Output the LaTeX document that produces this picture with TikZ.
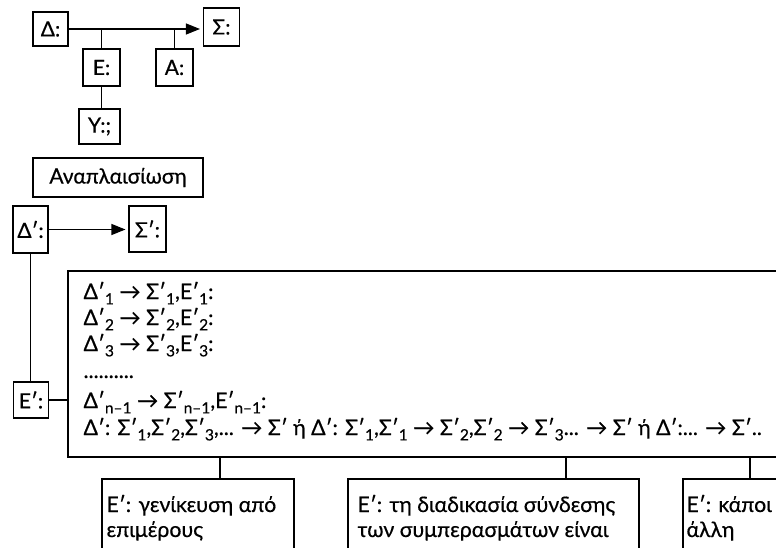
\documentclass[tikz,border=0pt]{standalone}
\usepackage{fontspec}
\setmainfont{Lato}[FakeBold=0.5]
\usetikzlibrary{arrows.meta}

% lowered, smaller index
\newcommand\ix[1]{\raisebox{-0.5ex}{\fontsize{15.5}{15.5}\selectfont #1}}

\begin{document}
\begin{tikzpicture}[x=1pt,y=-1pt,line width=1.1pt,
  box/.style={draw,rectangle,inner sep=0pt,font=\fontsize{21}{24}\selectfont},
  tline/.style={anchor=base west,inner sep=0pt,font=\fontsize{21.3}{24}\selectfont},
  arr/.style={-{Triangle[length=14pt,width=11pt]},shorten >=3pt}]
\useasboundingbox (0,0) rectangle (776,548);
\clip (0,0) rectangle (776,548);

% first scheme
\node[box,minimum width=35pt,minimum height=34pt] (d) at (50.5,29) {Δ:};
\node[box,minimum width=36pt,minimum height=38pt] (s) at (221.5,27) {Σ:};
\node[box,minimum width=37pt,minimum height=37pt] (e) at (101.5,67.5) {Ε:};
\node[box,minimum width=37pt,minimum height=37pt] (a) at (174.5,67.5) {Α:};
\node[box,minimum width=41pt,minimum height=35pt] (y) at (99.5,126.5) {Υ:;};
\draw[arr] (d.east) -- (d.east -| s.west);
\draw (e.north) -- (e.north |- d.east);
\draw (a.north) -- (a.north |- d.east);
\draw (e.south) -- (e.south |- y.north);

\node[box,minimum width=170pt,minimum height=39pt] (re) at (118,177.5) {Αναπλαισίωση};

% second scheme
\node[box,minimum width=35pt,minimum height=47pt] (dp) at (30.5,229.5) {Δ′:};
\node[box,minimum width=37pt,minimum height=46pt] (sp) at (147.5,229) {Σ′:};
\node[box,minimum width=35pt,minimum height=36pt] (ep) at (31,400) {Ε′:};
\draw[arr] (dp.east) -- (dp.east -| sp.west);
\draw (dp.south) -- (dp.south |- ep.north);

\node[draw,rectangle,inner sep=0pt,minimum width=752pt,minimum height=186pt] (fr) at (444,364) {};
\draw (ep.east) -- (ep.east -| fr.west);

\node[tline] (l1) at (83,299) {Δ′\ix{1} → Σ′\ix{1},Ε′\ix{1}:};
\node[tline] (l2) at (83,325) {Δ′\ix{2} → Σ′\ix{2},Ε′\ix{2}:};
\node[tline] (l3) at (83,351) {Δ′\ix{3} → Σ′\ix{3},Ε′\ix{3}:};
\node[tline] (l4) at (83,378) {..........};
\node[tline] (l5) at (83,408) {Δ′\ix{n–1} → Σ′\ix{n–1},Ε′\ix{n–1}:};
\node[tline] (l6) at (83,435) {Δ′: Σ′\ix{1},Σ′\ix{2},Σ′\ix{3},... → Σ′ ή Δ′: Σ′\ix{1},Σ′\ix{1} → Σ′\ix{2},Σ′\ix{2} → Σ′\ix{3}... → Σ′ ή Δ′:... → Σ′..};

% kinds of inference below the frame
\node[draw,rectangle,inner sep=0pt,minimum width=192pt,minimum height=121pt] (b1) at (198,539.5) {};
\node[draw,rectangle,inner sep=0pt,minimum width=291pt,minimum height=121pt] (b2) at (493.5,539.5) {};
\node[draw,rectangle,inner sep=0pt,minimum width=167pt,minimum height=121pt] (b3) at (766.5,539.5) {};
\coordinate (c1) at (220,0);
\coordinate (c2) at (566,0);
\coordinate (c3) at (750,0);
\draw (c1 |- fr.south) -- (c1 |- b1.north);
\draw (c2 |- fr.south) -- (c2 |- b2.north);
\draw (c3 |- fr.south) -- (c3 |- b3.north);

\node[tline] (t1a) at (106,512) {Ε′: γενίκευση από};
\node[tline] (t1b) at (106,537) {επιμέρους};
\node[tline] (t2a) at (357,512) {Ε′: τη διαδικασία σύνδεσης};
\node[tline] (t2b) at (357,537) {των συμπερασμάτων είναι};
\node[tline] (t3a) at (686,512) {Ε′: κάποι};
\node[tline] (t3b) at (686,537) {άλλη};
\end{tikzpicture}
\end{document}
